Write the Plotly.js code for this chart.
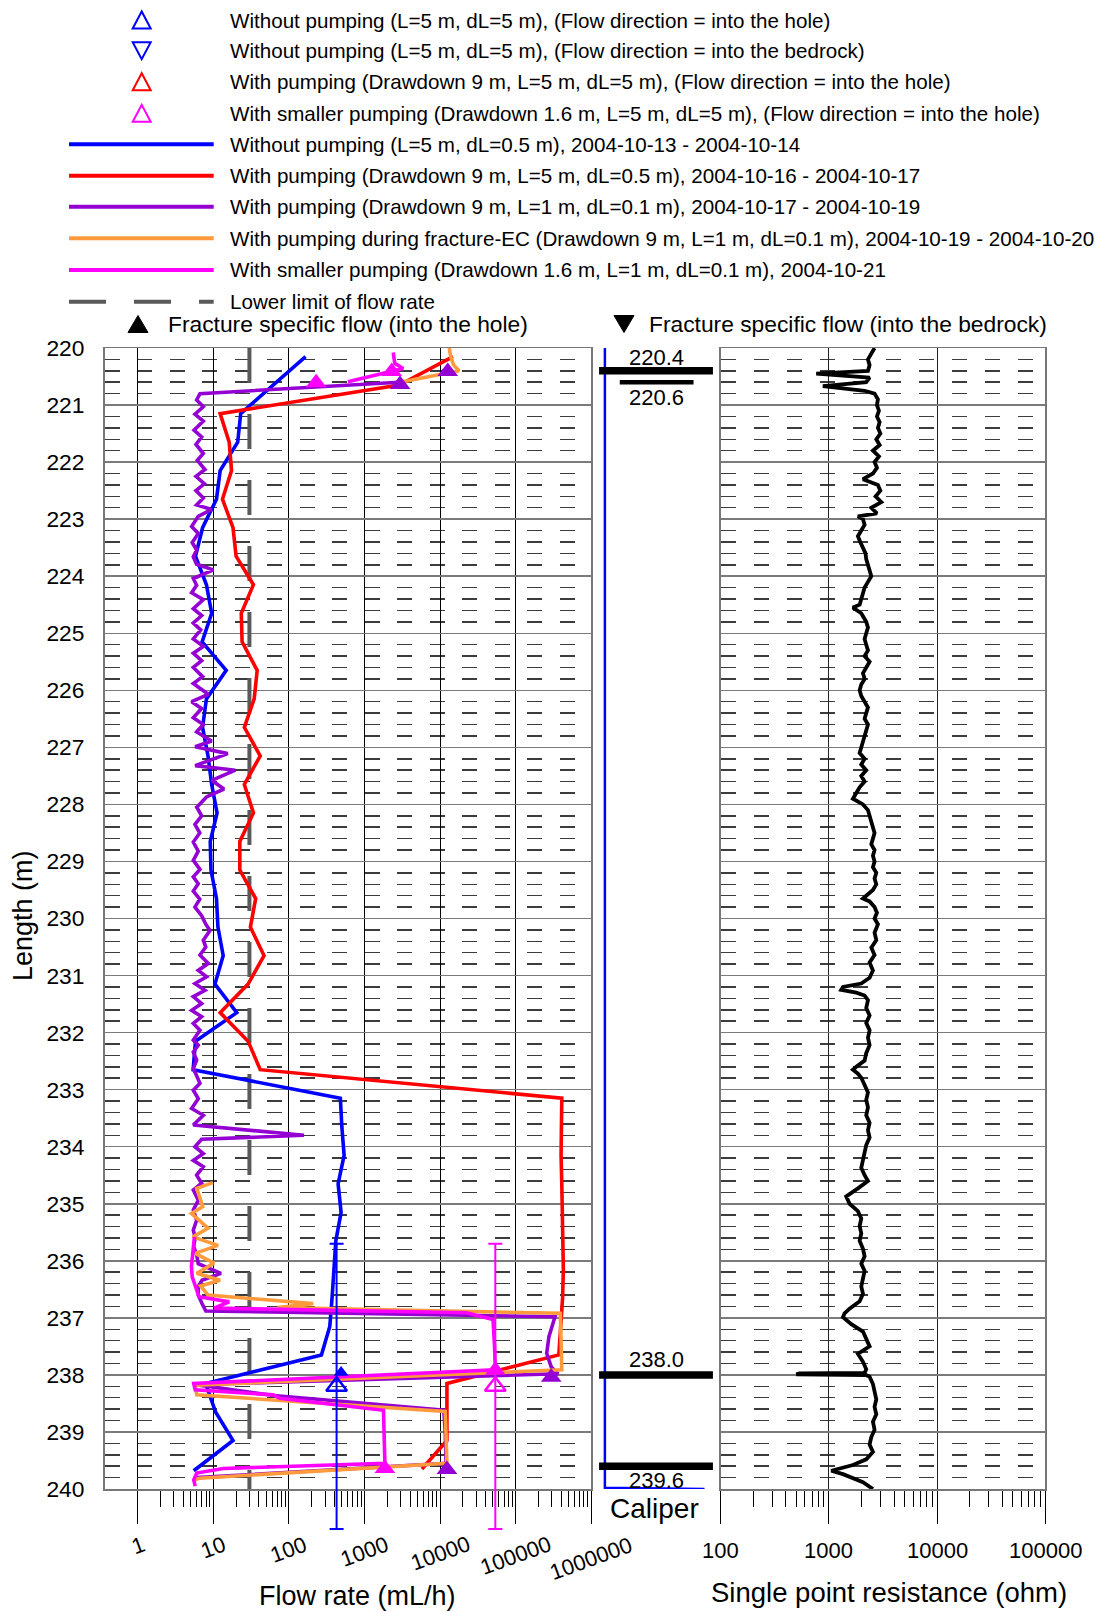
<!DOCTYPE html>
<html>
<head>
<meta charset="utf-8">
<script src="https://cdn.plot.ly/plotly-3.0.1.min.js"></script>
<style>html,body{margin:0;padding:0;background:#fff;}#chart{width:1106px;height:1612px;}</style>
</head>
<body>
<div id="chart"></div>
<script>
// ---------------- DATA ----------------
// Without pumping (L=5 m, dL=0.5 m)
const blueDepth = [220.15,221.15,221.65,222.15,222.65,223.15,223.65,224.15,224.65,225.15,225.65,226.15,226.65,227.15,227.65,228.15,228.65,229.15,229.65,230.15,230.65,231.15,231.65,232.15,232.65,233.15,233.65,234.15,234.65,235.15,235.65,236.15,236.65,237.15,237.65,238.15,238.65,239.15,239.68];
const blueFlow  = [166,23,21,12.3,11,7.2,5.8,8.1,9.5,7.1,14.8,8.1,7.2,8.5,9.5,11.2,9.1,9.3,11,11.5,13.5,10.5,20.4,5.8,5.4,479,501,537,447,490,417,398,372,347,269,7.9,10.7,18.2,5.5];

// With pumping (Drawdown 9 m, L=5 m, dL=0.5 m)
const redDepth = [220.15,220.65,221.15,221.65,222.15,222.65,223.15,223.65,224.15,224.65,225.15,225.65,226.15,226.65,227.15,227.65,228.15,228.65,229.15,229.65,230.15,230.65,231.15,231.65,232.15,232.65,233.15,233.65,234.15,234.65,235.15,235.65,236.15,236.65,237.15,237.65,238.15,238.65,239.15,239.65];
const redFlow  = [14800,2880,12.3,16.2,17.4,13.2,18.2,20,33.9,23.4,24,38,34.7,25.7,41.7,25.7,33.9,22.4,22.4,36.3,30.9,46.8,28.8,12.3,28.8,41.7,407000,398000,398000,407000,417000,417000,427000,417000,398000,372000,12300,12300,12300,5750];

// With pumping (Drawdown 9 m, L=1 m, dL=0.1 m)
const purpleDepth = [220.60,220.80,220.91,221.03,221.16,221.28,221.44,221.56,221.69,221.85,221.97,222.13,222.25,222.38,222.50,222.63,222.75,222.83,222.95,223.13,223.25,223.41,223.54,223.66,223.79,223.89,224.04,224.16,224.29,224.41,224.57,224.69,224.82,224.94,225.10,225.23,225.35,225.48,225.60,225.76,225.88,226.07,226.20,226.32,226.48,226.60,226.73,226.89,226.99,227.11,227.32,227.40,227.58,227.73,227.87,228.05,228.20,228.35,228.50,228.66,228.82,228.98,229.14,229.27,229.39,229.52,229.66,229.80,229.95,230.10,230.21,230.38,230.50,230.64,230.79,230.91,231.02,231.14,231.26,231.37,231.49,231.61,231.72,231.84,231.96,232.13,232.22,232.34,232.48,232.63,232.76,232.89,233.01,233.16,233.33,233.45,233.62,233.80,233.87,234.00,234.12,234.24,234.35,234.50,234.64,234.76,234.94,235.11,235.29,235.46,235.60,235.75,235.90,236.05,236.22,236.34,236.45,236.60,236.75,236.88,236.98,237.15,237.33,237.62,237.86,237.98,238.17,238.36,238.62,239.00,239.55,239.80];
const purpleFlow  = [2880,6.65,6.01,7.36,5.71,7.36,5.55,7.0,5.89,7.36,6.14,7.74,5.89,7.59,5.89,7.36,6.01,9.48,6.31,5.16,6.32,5.25,6.01,5.43,6.01,9.98,5.43,6.01,5.16,7.36,5.43,7.0,5.43,6.79,5.43,7.36,5.43,7.0,5.43,7.21,5.43,8.57,5.16,7.0,5.43,7.36,6.01,9.48,5.75,15.5,5.75,19.5,9.55,13.8,8.13,6.03,7.0,5.71,6.61,5.43,6.31,5.43,6.65,5.43,6.31,5.43,6.61,5.71,7.0,7.94,9.02,7.36,7.94,6.65,8.57,6.32,8.15,5.71,7.74,5.43,7.0,5.16,7.0,5.43,6.65,5.43,6.32,5.43,6.01,5.43,6.03,6.65,5.43,6.32,5.16,7.36,5.43,158,7.0,5.71,7.36,5.43,7.36,6.01,7.0,5.43,6.32,5.43,6.01,5.43,5.75,5.5,6.03,6.31,12.6,7.08,6.31,6.31,7.08,7.94,331000,302000,275000,257000,295000,363000,5.75,63,11200,11700,12000,6.03];

// With pumping during fracture-EC (Drawdown 9 m, L=1 m, dL=0.1 m)
const orangeDepth = [220.00,220.15,220.30,220.40,220.60,null,234.63,234.73,235.05,235.17,235.43,235.58,235.73,235.87,236.04,236.22,236.34,236.44,236.60,236.75,236.82,236.92,237.40,237.91,238.18,238.35,238.64,239.00,239.55,239.81,239.85];
const orangeFlow  = [13200,13800,15100,17800,2950,null,9.9,6.03,7.24,5.13,8.51,5.37,11.5,5.75,10.2,6.03,12.3,6.76,8.51,209,70.8,389000,398000,407000,5.75,6.03,11700,12000,12300,6.61,5.5];

// With smaller pumping (Drawdown 1.6 m, L=1 m, dL=0.1 m)
const magentaDepth = [220.08,220.27,220.36,220.59,null,235.58,235.87,236.10,236.28,236.46,236.63,236.72,236.83,236.91,237.03,237.50,237.91,238.15,238.26,238.35,238.41,238.62,239.00,239.55,239.64,239.72,239.84,239.95];
const magentaFlow  = [2400,2510,3240,603,null,5.62,5.37,5.13,5.25,5.89,6.46,16.2,10.2,22400,50100,52500,53700,5.5,5.75,61.7,75.9,1780,1820,1860,13.5,6.03,5.5,5.75];

// Lower limit of flow rate
const lowerLimitFlow  = [30, 30];
const lowerLimitDepth = [220, 240];

// Fracture specific flow (into the hole)
const fracMagentaDepth = [220.41,220.61,237.92,239.64];
const fracMagentaFlow  = [2290,229,53700,1860];
const fracPurpleDepth  = [220.41,220.64,238.04,239.66];
const fracPurpleFlow   = [12600,2950,295000,12300];
const fracBlueDepth    = [237.96];
const fracBlueFlow     = [490];

// L=5 m section results (flow into the hole), section centre and half length
const sectionDepth        = [238.2];
const sectionBlueFlow     = [427];
const sectionMagentaFlow  = [53700];
const sectionHalfLength   = [2.5];

// Caliper
const caliperDepth = [220.0,222.0,224.0,226.0,228.0,230.0,232.0,234.0,236.0,238.0,239.98,240.0];
const caliperValue = [72.1,72.1,72.1,72.1,72.1,72.1,72.1,72.1,72.1,72.1,72.1,87.5];

// Single point resistance (ohm)
const sprDepth = [220.00,220.10,220.20,220.30,220.40,220.45,220.52,220.60,220.67,220.75,220.80,220.90,221.00,221.10,221.20,221.30,221.40,221.50,221.60,221.70,221.80,221.90,222.00,222.10,222.20,222.30,222.40,222.50,222.60,222.70,222.80,222.90,222.95,223.00,223.10,223.20,223.30,223.40,223.50,223.60,223.70,223.80,223.90,224.00,224.10,224.20,224.30,224.40,224.50,224.55,224.65,224.80,224.90,225.00,225.10,225.20,225.30,225.40,225.50,225.60,225.70,225.80,225.90,226.00,226.10,226.20,226.30,226.40,226.50,226.60,226.70,226.80,226.90,227.00,227.10,227.20,227.30,227.40,227.50,227.60,227.70,227.80,227.90,228.00,228.10,228.20,228.30,228.40,228.50,228.60,228.70,228.80,228.90,229.00,229.10,229.20,229.30,229.40,229.50,229.60,229.65,229.70,229.80,229.90,230.00,230.10,230.25,230.38,230.51,230.64,230.77,230.91,231.04,231.14,231.20,231.25,231.30,231.35,231.43,231.57,231.70,231.83,231.96,232.09,232.22,232.36,232.49,232.60,232.65,232.72,232.79,232.92,233.05,233.18,233.31,233.45,233.58,233.71,233.84,233.97,234.10,234.24,234.37,234.50,234.60,234.73,234.87,235.00,235.13,235.26,235.39,235.52,235.65,235.79,235.92,236.05,236.18,236.31,236.45,236.58,236.71,236.84,236.92,236.99,237.11,237.24,237.37,237.50,237.63,237.77,237.90,237.965,237.975,237.99,238.005,238.03,238.16,238.29,238.43,238.56,238.69,238.82,238.96,239.09,239.22,239.35,239.48,239.58,239.68,239.74,239.88,240.00];
const sprOhm = [2642,2466,2296,2377,2296,764,2377,2213,879,2138,2642,2838,2780,2900,2780,2944,2838,2990,2742,2944,2553,2900,2642,2780,2553,2065,2838,2990,2700,3048,2466,2780,1854,2065,2138,1991,1854,1950,2065,2180,2213,2296,2410,2466,2296,2138,2065,1991,1923,1667,1991,2213,2296,2213,2138,2213,2296,2138,2377,2213,2065,2138,1991,1923,1991,2138,2296,2213,2138,2296,2213,2138,2065,1991,1923,2138,1991,2213,1991,2138,1923,1791,1667,2065,2296,2377,2466,2553,2642,2553,2466,2642,2553,2642,2553,2742,2642,2742,2553,2213,2065,2377,2642,2780,2642,2838,2642,2742,2466,2642,2377,2553,2377,1991,1349,1300,1791,2138,2296,2213,2377,2213,2377,2296,2377,2213,2138,1791,1667,1854,1991,2138,2296,2213,2296,2213,2377,2296,2377,2213,2138,2065,1991,2138,2296,1854,1446,1552,1854,1991,1923,1991,1923,2065,2138,1991,2138,2065,1991,2065,1923,1552,1395,1349,1611,2065,2213,2377,1854,2065,2213,2138,536,499,2213,2377,2553,2642,2742,2642,2742,2553,2642,2466,2377,2553,2213,1667,1052,1349,2065,2553];

// Fracture depth marks in the caliper column
const fractureDepths = [220.4, 220.6, 238.0, 239.6];
const fractureLabels = ['220.4', '220.6', '238.0', '239.6'];

// Tick labels
const flowTicks = [1, 10, 100, 1000, 10000, 100000, 1000000];
const flowTickLabels = ['1', '10', '100', '1000', '10000', '100000', '1000000'];
const sprTicks = [100, 1000, 10000, 100000];
const sprTickLabels = ['100', '1000', '10000', '100000'];

// Legend texts
const legendMarkerTexts = [
  'Without pumping (L=5 m, dL=5 m), (Flow direction = into the hole)',
  'Without pumping (L=5 m, dL=5 m), (Flow direction = into the bedrock)',
  'With pumping (Drawdown 9 m, L=5 m, dL=5 m), (Flow direction = into the hole)',
  'With smaller pumping (Drawdown 1.6 m, L=5 m, dL=5 m), (Flow direction = into the hole)'
];
const legendLineTexts = [
  'Without pumping (L=5 m, dL=0.5 m), 2004-10-13 - 2004-10-14',
  'With pumping (Drawdown 9 m, L=5 m, dL=0.5 m), 2004-10-16 - 2004-10-17',
  'With pumping (Drawdown 9 m, L=1 m, dL=0.1 m), 2004-10-17 - 2004-10-19',
  'With pumping during fracture-EC (Drawdown 9 m, L=1 m, dL=0.1 m), 2004-10-19 - 2004-10-20',
  'With smaller pumping (Drawdown 1.6 m, L=1 m, dL=0.1 m), 2004-10-21'
];
const legendLimitText = 'Lower limit of flow rate';
const fracHoleText = 'Fracture specific flow (into the hole)';
const fracBedrockText = 'Fracture specific flow (into the bedrock)';

// ---------------- STYLE / LAYOUT ----------------
const W = 1106, H = 1612;
const px = x => x / W;
const py = y => 1 - y / H;
const FONT = 'Liberation Sans, Arial, Helvetica, sans-serif';
const C = {blue:'#0000ff', red:'#ff0000', purple:'#9400d3', orange:'#ff9b3d', magenta:'#ff00ff', limit:'#5a5a5a'};

const TOP = 348, BOTTOM = 1489, EXT_BOTTOM = 1533;   // pixel rows of the depth scale
const mainDom = [px(104.5), px(591.3)];
const calDom  = [px(591.3), px(720.7)];
const sprDom  = [px(720.7), px(1045.3)];
const yDom    = [py(BOTTOM), py(TOP)];
// extended (unclipped below 240 m) copy of the depth scale for the 5 m section bars
const pxPerMetre = (BOTTOM - TOP) / 20;
const yExtDom   = [py(EXT_BOTTOM), py(TOP)];
const yExtRange = [220 + (EXT_BOTTOM - TOP) / pxPerMetre, 220];

function minorVals(fromExp, toExp) {
  const v = [];
  for (let e = fromExp; e < toExp; e++) for (let d = 2; d <= 9; d++) v.push(d * Math.pow(10, e));
  return v;
}

const lw = 3.6;
const traces = [
  {x: lowerLimitFlow, y: lowerLimitDepth, mode:'lines', line:{color:C.limit, width:4, dash:'35px,31px'}, xaxis:'x', yaxis:'y'},
  {x: blueFlow, y: blueDepth, mode:'lines', line:{color:C.blue, width:lw}, xaxis:'x', yaxis:'y'},
  {x: redFlow, y: redDepth, mode:'lines', line:{color:C.red, width:lw}, xaxis:'x', yaxis:'y'},
  {x: purpleFlow, y: purpleDepth, mode:'lines', line:{color:C.purple, width:lw}, xaxis:'x', yaxis:'y'},
  {x: orangeFlow, y: orangeDepth, mode:'lines', line:{color:C.orange, width:lw}, connectgaps:false, xaxis:'x', yaxis:'y'},
  {x: magentaFlow, y: magentaDepth, mode:'lines', line:{color:C.magenta, width:lw}, connectgaps:false, xaxis:'x', yaxis:'y'},
  {x: fracMagentaFlow, y: fracMagentaDepth, mode:'markers', marker:{symbol:'triangle-up', size:18, color:C.magenta}, xaxis:'x', yaxis:'y'},
  {x: fracPurpleFlow, y: fracPurpleDepth, mode:'markers', marker:{symbol:'triangle-up', size:18, color:C.purple}, xaxis:'x', yaxis:'y'},
  {x: fracBlueFlow, y: fracBlueDepth, mode:'markers', marker:{symbol:'triangle-up', size:13, color:C.blue}, xaxis:'x', yaxis:'y'},
  {x: sectionBlueFlow, y: sectionDepth, mode:'markers', cliponaxis:false,
   marker:{symbol:'triangle-up-open', size:18, color:C.blue, line:{width:2.5, color:C.blue}},
   error_y:{type:'data', array:sectionHalfLength, visible:true, color:C.blue, thickness:2, width:7}, xaxis:'x5', yaxis:'y5'},
  {x: sectionMagentaFlow, y: sectionDepth, mode:'markers', cliponaxis:false,
   marker:{symbol:'triangle-up-open', size:18, color:C.magenta, line:{width:2.5, color:C.magenta}},
   error_y:{type:'data', array:sectionHalfLength, visible:true, color:C.magenta, thickness:2, width:7}, xaxis:'x5', yaxis:'y5'},
  {x: caliperValue, y: caliperDepth, mode:'lines', line:{color:C.blue, width:2.5}, xaxis:'x2', yaxis:'y2'},
  {x: sprOhm, y: sprDepth, mode:'lines', line:{color:'#000', width:3.8}, xaxis:'x3', yaxis:'y3'}
];
traces.forEach(t => { t.showlegend = false; t.hoverinfo = 'skip'; });

const yBase = {
  range:[240, 220], autorange:false, tick0:220, dtick:1, zeroline:false,
  showgrid:true, gridcolor:'#7a7a7a', gridwidth:1.5,
  showline:true, linecolor:'#777', linewidth:1.5, mirror:true, ticks:'',
};
const layout = {
  width:W, height:H, margin:{l:0, r:0, t:0, b:0}, paper_bgcolor:'#fff', plot_bgcolor:'rgba(0,0,0,0)',
  font:{family:FONT, color:'#000'}, showlegend:false,
  xaxis:{type:'log', domain:mainDom, range:[-0.44, 6], autorange:false, dtick:1, anchor:'y',
         showgrid:true, gridcolor:'#000', gridwidth:1, zeroline:false,
         showline:true, linecolor:'#777', linewidth:1.5, mirror:true,
         ticks:'outside', ticklen:33, tickwidth:1, tickcolor:'#000', showticklabels:false,
         minor:{tickmode:'array', tickvals:minorVals(0, 6), ticks:'outside', ticklen:16, tickwidth:1, tickcolor:'#000', showgrid:false}},
  yaxis:Object.assign({}, yBase, {domain:yDom, anchor:'x', showticklabels:true,
         tickfont:{size:22.8, family:FONT}, ticklabelstandoff:14,
         minor:{tick0:220, dtick:0.2, showgrid:true, gridcolor:'#3c3c3c', gridwidth:1.5, griddash:'15px,17.5px', ticks:''}}),
  xaxis2:{domain:calDom, range:[70, 90], autorange:false, anchor:'y2', visible:false},
  yaxis2:{domain:yDom, range:[240, 220], autorange:false, anchor:'x2', visible:false},
  xaxis3:{type:'log', domain:sprDom, range:[2, 5], autorange:false, dtick:1, anchor:'y3',
         showgrid:true, gridcolor:'#222', gridwidth:1, zeroline:false,
         showline:true, linecolor:'#777', linewidth:1.5, mirror:true,
         ticks:'outside', ticklen:33, tickwidth:1, tickcolor:'#000', showticklabels:false,
         minor:{tickmode:'array', tickvals:minorVals(2, 5), ticks:'outside', ticklen:16, tickwidth:1, tickcolor:'#000', showgrid:false}},
  yaxis3:Object.assign({}, yBase, {domain:yDom, anchor:'x3', showticklabels:false,
         minor:{tick0:220, dtick:0.2, showgrid:true, gridcolor:'#3c3c3c', gridwidth:1.5, griddash:'15px,18px', ticks:''}}),
  xaxis5:{type:'log', domain:mainDom, range:[-0.44, 6], autorange:false, anchor:'y5', visible:false, showgrid:false},
  yaxis5:{domain:yExtDom, range:yExtRange, autorange:false, anchor:'x5', visible:false, showgrid:false},
  shapes:[], annotations:[]
};

// fracture marks in caliper column
const barStyle = [
  {x0:0.06, x1:0.94, w:7.5, shift:13},
  {x0:0.22, x1:0.79, w:4.3, shift:-15},
  {x0:0.06, x1:0.94, w:7.5, shift:15},
  {x0:0.06, x1:0.94, w:7.5, shift:-14}
];
fractureDepths.forEach((d, i) => {
  const s = barStyle[i];
  layout.shapes.push({type:'line', xref:'x2 domain', yref:'y2', x0:s.x0, x1:s.x1, y0:d, y1:d, line:{color:'#000', width:s.w}});
  layout.annotations.push({xref:'x2 domain', yref:'y2', x:0.5, y:d, yshift:s.shift, xanchor:'center', yanchor:'middle',
    text:fractureLabels[i], showarrow:false, font:{size:22, family:FONT}});
});

// x tick labels
flowTicks.forEach((v, i) => layout.annotations.push({xref:'x', yref:'paper', x:Math.log10(v), y:py(1529), xanchor:'center', yanchor:'top',
  textangle:-20, text:flowTickLabels[i], showarrow:false, font:{size:22, family:FONT}}));
sprTicks.forEach((v, i) => layout.annotations.push({xref:'x3', yref:'paper', x:Math.log10(v), y:py(1550), xanchor:'center', yanchor:'middle',
  text:sprTickLabels[i], showarrow:false, font:{size:22, family:FONT}}));

// axis titles
layout.annotations.push({xref:'paper', yref:'paper', x:px(23), y:py(916), textangle:-90, xanchor:'center', yanchor:'middle',
  text:'Length (m)', showarrow:false, font:{size:27, family:FONT}});
layout.annotations.push({xref:'paper', yref:'paper', x:px(357), y:py(1596), xanchor:'center', yanchor:'middle',
  text:'Flow rate (mL/h)', showarrow:false, font:{size:27, family:FONT}});
layout.annotations.push({xref:'paper', yref:'paper', x:px(889), y:py(1592), xanchor:'center', yanchor:'middle',
  text:'Single point resistance (ohm)', showarrow:false, font:{size:27.5, family:FONT}});
layout.annotations.push({xref:'paper', yref:'paper', x:px(654), y:py(1508), xanchor:'center', yanchor:'middle',
  text:'Caliper', showarrow:false, font:{size:28, family:FONT}});

// ---- custom legend ----
function triPath(cx, cy, w, h, up) {
  const s = up ? 1 : -1;
  const pts = [[cx - w / 2, cy + s * h / 2], [cx + w / 2, cy + s * h / 2], [cx, cy - s * h / 2]];
  return 'M' + pts.map(p => px(p[0]).toFixed(5) + ',' + py(p[1]).toFixed(5)).join('L') + 'Z';
}
const markerRowY = [20, 50.7, 81.7, 113.3];
const markerRowStyle = [{c:C.blue, up:true}, {c:C.blue, up:false}, {c:C.red, up:true}, {c:C.magenta, up:true}];
markerRowY.forEach((y, i) => {
  layout.shapes.push({type:'path', xref:'paper', yref:'paper', path:triPath(141.7, y, 18, 17, markerRowStyle[i].up),
    line:{color:markerRowStyle[i].c, width:2}, fillcolor:'rgba(0,0,0,0)'});
  layout.annotations.push({xref:'paper', yref:'paper', x:px(227.8), y:py(y), xanchor:'left', yanchor:'middle',
    text:legendMarkerTexts[i], showarrow:false, font:{size:20.6, family:FONT}});
});
const lineRowY = [144.3, 175.7, 206.7, 238.3, 270];
const lineRowColor = [C.blue, C.red, C.purple, C.orange, C.magenta];
lineRowY.forEach((y, i) => {
  layout.shapes.push({type:'line', xref:'paper', yref:'paper', x0:px(69), x1:px(213.7), y0:py(y), y1:py(y), line:{color:lineRowColor[i], width:4}});
  layout.annotations.push({xref:'paper', yref:'paper', x:px(227.8), y:py(y), xanchor:'left', yanchor:'middle',
    text:legendLineTexts[i], showarrow:false, font:{size:20.6, family:FONT}});
});
layout.shapes.push({type:'line', xref:'paper', yref:'paper', x0:px(69), x1:px(213.7), y0:py(301.7), y1:py(301.7), line:{color:C.limit, width:4, dash:'37px,28px'}});
layout.annotations.push({xref:'paper', yref:'paper', x:px(227.8), y:py(301.7), xanchor:'left', yanchor:'middle',
  text:legendLimitText, showarrow:false, font:{size:20.6, family:FONT}});
layout.shapes.push({type:'path', xref:'paper', yref:'paper', path:triPath(138, 324, 20, 17, true), line:{color:'#000', width:1}, fillcolor:'#000'});
layout.shapes.push({type:'path', xref:'paper', yref:'paper', path:triPath(624, 324, 20, 17, false), line:{color:'#000', width:1}, fillcolor:'#000'});
layout.annotations.push({xref:'paper', yref:'paper', x:px(165.7), y:py(324), xanchor:'left', yanchor:'middle',
  text:fracHoleText, showarrow:false, font:{size:22.8, family:FONT}});
layout.annotations.push({xref:'paper', yref:'paper', x:px(646.7), y:py(324), xanchor:'left', yanchor:'middle',
  text:fracBedrockText, showarrow:false, font:{size:22.8, family:FONT}});

Plotly.newPlot('chart', traces, layout, {displayModeBar:false, staticPlot:true});
</script>
</body>
</html>
